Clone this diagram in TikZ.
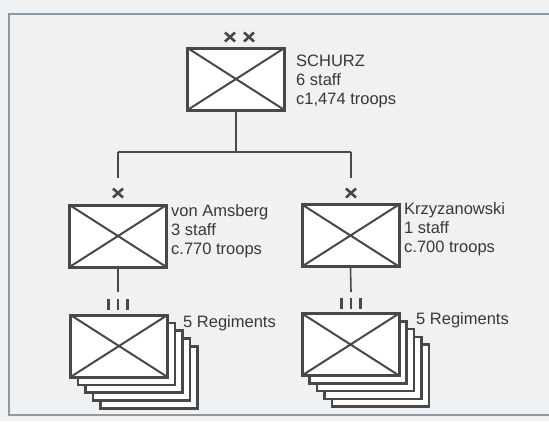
\documentclass[tikz,border=0pt]{standalone}
\usepackage{fontspec}
\setmainfont{Liberation Sans}
\usetikzlibrary{calc}
\definecolor{ink}{HTML}{484848}
\definecolor{txt}{HTML}{383838}
\definecolor{framec}{HTML}{8C98A4}
\definecolor{paper}{HTML}{F0F1F2}
\begin{document}
\begin{tikzpicture}[x=1pt,y=-1pt,
  unitbox/.style={draw=ink, line width=3pt, fill=white, rectangle, inner sep=0pt,
    minimum width=97pt, minimum height=62pt,
    path picture={\draw[ink, line width=2pt]
      (path picture bounding box.north west) -- (path picture bounding box.south east)
      (path picture bounding box.north east) -- (path picture bounding box.south west);}},
  backbox/.style={draw=ink, line width=2.6pt, fill=white, rectangle, inner sep=0pt,
    minimum width=97pt, minimum height=62pt},
  conn/.style={draw=ink, line width=1.6pt},
  echmark/.style={draw=ink, line width=2.6pt},
  label/.style={text=txt, font=\fontsize{16.5pt}{19pt}\selectfont, align=left, anchor=west, inner sep=0pt}]
\useasboundingbox (0,0) rectangle (549,421);
\fill[paper] (0,0) rectangle (549,421);
\draw[framec, line width=1.6pt] (551,14) -- (9,14) -- (9,415) -- (551,415);

% top division
\node[unitbox] (div) at (236,79) {};
\node[label] (divtxt) at (296,81) {SCHURZ\\6 staff\\c1,474 troops};
\coordinate (xx1) at (230,37);
\coordinate (xx2) at (249,37);
\draw[echmark] ($(xx1)+(-5,-4.5)$) -- ($(xx1)+(5,4.5)$) ($(xx1)+(5,-4.5)$) -- ($(xx1)+(-5,4.5)$);
\draw[echmark] ($(xx2)+(-5,-4.5)$) -- ($(xx2)+(5,4.5)$) ($(xx2)+(5,-4.5)$) -- ($(xx2)+(-5,4.5)$);

% brigades
\node[unitbox] (bl) at (118,236) {};
\node[unitbox] (br) at (350.5,235.5) {};
\node[label] (bltxt) at (171,231) {von Amsberg\\3 staff\\c.770 troops};
\node[label] (brtxt) at (404,229) {Krzyzanowski\\1 staff\\c.700 troops};
\coordinate (xl) at (118,193);
\coordinate (xr) at (351,193);
\draw[echmark] ($(xl)+(-5,-4.5)$) -- ($(xl)+(5,4.5)$) ($(xl)+(5,-4.5)$) -- ($(xl)+(-5,4.5)$);
\draw[echmark] ($(xr)+(-5,-4.5)$) -- ($(xr)+(5,4.5)$) ($(xr)+(5,-4.5)$) -- ($(xr)+(-5,4.5)$);

% connectors top
\coordinate (hj) at (236,152);
\coordinate (hl) at (118,152);
\coordinate (hr) at (351,152);
\coordinate (el) at (118,178);
\coordinate (er) at (351,178);
\draw[conn] (div.south) -- (hj);
\draw[conn] (hl) -- (hr);
\draw[conn] (hl) -- (el);
\draw[conn] (hr) -- (er);

% regiments stacks
\foreach \i in {4,3,2,1}{
  \node[backbox] (sl\i) at ($(119,346)+(7.5*\i,7.8*\i)$) {};
  \node[backbox] (sr\i) at ($(350.5,344.5)+(7.5*\i,7.8*\i)$) {};
}
\node[unitbox] (rl) at (119,346) {};
\node[unitbox] (rr) at (350.5,344.5) {};
\node[label] (rltxt) at (183,323) {5 Regiments};
\node[label] (rrtxt) at (416,320) {5 Regiments};

\coordinate (ml) at (118,292);
\coordinate (mr) at (351,292);
\draw[conn] (bl.south) -- (ml);
\draw[conn] (br.south) -- (mr);
\foreach \dx in {-9.5,0,9.5}{
  \draw[ink, line width=2.6pt] (118+\dx,299) -- (118+\dx,310);
  \draw[ink, line width=2.6pt] (351+\dx,298) -- (351+\dx,309);
}
\end{tikzpicture}
\end{document}
